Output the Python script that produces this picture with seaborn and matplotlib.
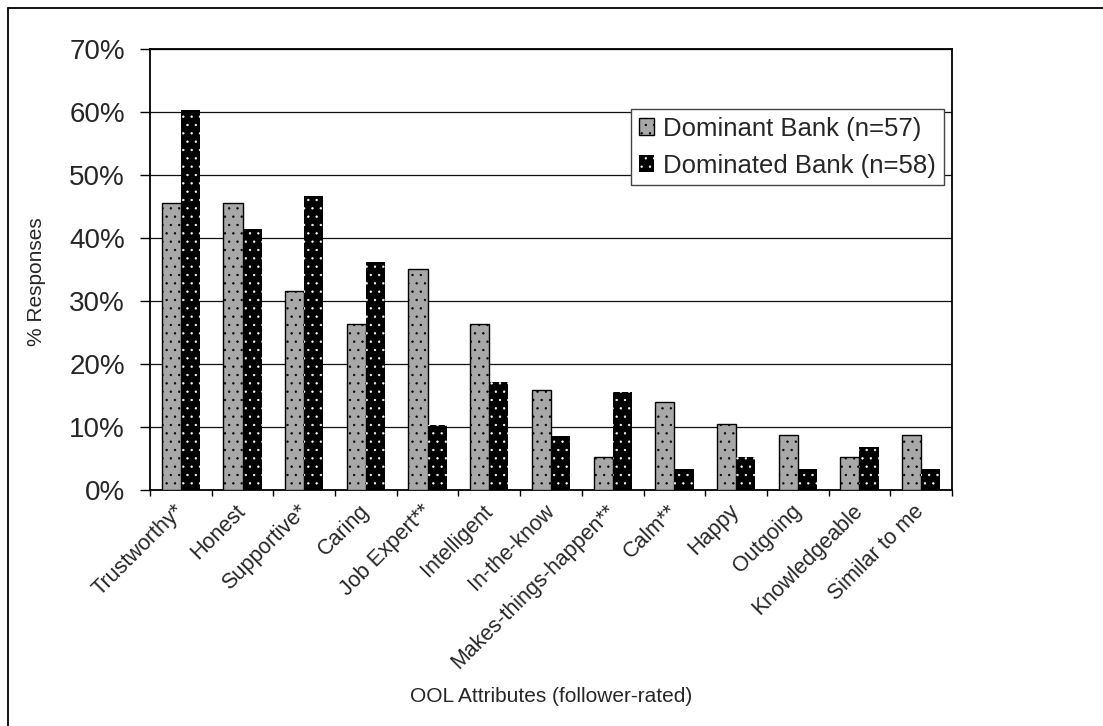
import matplotlib
matplotlib.use("Agg")
import matplotlib.pyplot as plt
import matplotlib.transforms as mtransforms
import numpy as np
import pandas as pd
import seaborn as sns
from matplotlib.patches import Patch
from matplotlib.lines import Line2D

# Leader attributes named by followers, share of responses per bank
attributes = [
    "Trustworthy*", "Honest", "Supportive*", "Caring", "Job Expert**",
    "Intelligent", "In-the-know", "Makes-things-happen**", "Calm**",
    "Happy", "Outgoing", "Knowledgeable", "Similar to me",
]
dominant_pct = [45.6, 45.6, 31.6, 26.3, 35.1, 26.3, 15.8, 5.3, 14.0, 10.5, 8.8, 5.3, 8.8]
dominated_pct = [60.3, 41.4, 46.6, 36.2, 10.3, 17.2, 8.6, 15.5, 3.4, 5.2, 3.4, 6.9, 3.4]
series_names = ["Dominant Bank (n=57)", "Dominated Bank (n=58)"]
y_ticks = [0, 10, 20, 30, 40, 50, 60, 70]

df = pd.DataFrame({
    "attribute": attributes * 2,
    "bank": [series_names[0]] * len(attributes) + [series_names[1]] * len(attributes),
    "pct": dominant_pct + dominated_pct,
})

sns.set_style("white")
plt.rcParams["font.family"] = ["Liberation Sans", "DejaVu Sans"]
plt.rcParams["hatch.linewidth"] = 0.45

W, H = 1103, 726
fig = plt.figure(figsize=(W / 100, H / 100), dpi=100)
ax = fig.add_axes([150 / W, 1 - 490 / H, 802 / W, 441 / H])

grey_face = "#a8a8a8"
sns.barplot(
    data=df, x="attribute", y="pct", hue="bank",
    order=attributes, hue_order=series_names,
    palette=[grey_face, "black"], width=0.62,
    edgecolor="black", linewidth=1.0, errorbar=None,
    legend=False, ax=ax, zorder=3,
)

# Textured fills: grey with dark dots, black with white dots
for bar in ax.containers[0]:
    bar.set_hatch("..")
for bar in ax.containers[1]:
    bar.set_hatch("..")
    bar.set_edgecolor("white")
    bar.set_linewidth(0)

ax.set_xlim(-0.5, len(attributes) - 0.5)
ax.set_ylim(0, 70)
ax.set_yticks(y_ticks)
ax.set_yticklabels([f"{t}%" for t in y_ticks], fontsize=20)
ax.yaxis.grid(True, color="#111111", linewidth=0.9, zorder=0)
ax.set_axisbelow(True)

ax.set_xticks(range(len(attributes)))
ax.set_xticklabels(attributes, rotation=45, ha="right", va="center",
                   rotation_mode="anchor", fontsize=15.5)
shift = mtransforms.ScaledTranslation(-16 / 100, 0, fig.dpi_scale_trans)
for lab in ax.get_xticklabels():
    lab.set_transform(lab.get_transform() + shift)
ax.set_xticks(np.arange(-0.5, len(attributes)), minor=True)
ax.tick_params(axis="x", which="major", length=0, pad=13)
ax.tick_params(axis="x", which="minor", bottom=True, direction="out",
               length=4.5, width=1.0, color="black")
ax.tick_params(axis="y", which="major", left=True, direction="out",
               length=7, width=1.0, color="black", pad=11)

for s in ax.spines.values():
    s.set_visible(True)
    s.set_color("black")
    s.set_linewidth(1.3)

ax.set_xlabel("")
ax.set_ylabel("")
fig.text(37 / W, 1 - 282 / H, "% Responses", rotation=90,
         ha="center", va="center", fontsize=15)
fig.text(551 / W, 1 - 697 / H, "OOL Attributes (follower-rated)",
         ha="center", va="center", fontsize=15)

handles = [
    Patch(facecolor=grey_face, edgecolor="black", hatch="..", linewidth=1.0),
    Patch(facecolor="black", edgecolor="white", hatch="..", linewidth=0),
]
leg = ax.legend(
    handles, series_names, loc="upper right",
    bbox_to_anchor=(944 / W, 1 - 109 / H), bbox_transform=fig.transFigure,
    borderaxespad=0, fontsize=18.5, frameon=True, fancybox=False,
    edgecolor="#444444", framealpha=1, handlelength=0.6, handleheight=0.6,
    handletextpad=0.35, labelspacing=0.5, borderpad=0.3,
)
leg.get_frame().set_linewidth(1.0)

# Outer chart border
fig.add_artist(Line2D([8 / W, 8 / W], [0, 1 - 8 / H], color="black",
                      linewidth=1.3, transform=fig.transFigure))
fig.add_artist(Line2D([8 / W, 1], [1 - 8 / H, 1 - 8 / H], color="black",
                      linewidth=1.3, transform=fig.transFigure))

fig.savefig("out.png", dpi=100)
